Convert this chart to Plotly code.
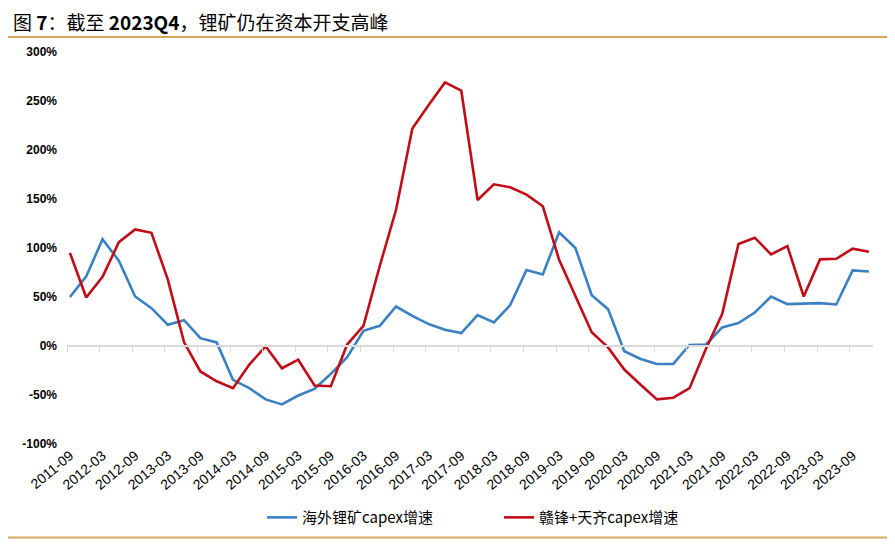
import plotly.graph_objects as go

quarters = [
    "2011-09", "2011-12", "2012-03", "2012-06", "2012-09", "2012-12",
    "2013-03", "2013-06", "2013-09", "2013-12", "2014-03", "2014-06",
    "2014-09", "2014-12", "2015-03", "2015-06", "2015-09", "2015-12",
    "2016-03", "2016-06", "2016-09", "2016-12", "2017-03", "2017-06",
    "2017-09", "2017-12", "2018-03", "2018-06", "2018-09", "2018-12",
    "2019-03", "2019-06", "2019-09", "2019-12", "2020-03", "2020-06",
    "2020-09", "2020-12", "2021-03", "2021-06", "2021-09", "2021-12",
    "2022-03", "2022-06", "2022-09", "2022-12", "2023-03", "2023-06",
    "2023-09", "2023-12",
]

overseas_capex = [
    50, 71, 109, 87, 50.5, 38.6, 21.7, 26.4, 8, 3.7,
    -34.5, -43, -54.5, -59.6, -50.5, -43.7, -28.5, -11.5, 15.5, 20.6,
    40.3, 30.8, 22.4, 16.6, 13.2, 31.5, 24, 41.7, 77.5, 73,
    116, 100, 51.8, 37.6, -5.4, -13.2, -18.3, -18.3, 1, 1.4,
    19, 23.4, 34.2, 50.5, 42.7, 43, 43.7, 42.4, 77.2, 76,
]

ganfeng_tianqi_capex = [
    95, 49.5, 70.5, 106, 119, 115.5, 68, 3.7, -26, -36,
    -43, -19, -0.3, -22.7, -14, -40.3, -41, 1.5, 20.6, 81.6,
    139, 222, 246, 269, 260.5, 149, 165, 162, 154.5, 142.6,
    88, 51, 14, -1.4, -24, -39.6, -54.5, -52.8, -43, -3,
    32.5, 104, 110.5, 93.5, 102, 50.5, 88.4, 89, 99.3, 96.2,
]

series_names = ["海外锂矿capex增速", "赣锋+天齐capex增速"]
y_ticks = [-100, -50, 0, 50, 100, 150, 200, 250, 300]

idx = list(range(len(quarters)))
label_idx = idx[::2]
label_text = quarters[::2]

# page body has an 8px margin, so the figure starts at screen (8, 8)
OFF = 8
W, H = 895 - OFF, 546 - OFF
L = 67 - OFF
R = W - (873 - OFF)
T = 52 - OFF
B = H - (446 - OFF)
pw, ph = W - L - R, H - T - B


def px_x(sx):
    return (sx - OFF - L) / pw


def px_y(sy):
    return (H - B - (sy - OFF)) / ph


fig = go.Figure()
fig.add_trace(go.Scatter(
    x=idx, y=overseas_capex, mode="lines", name=series_names[0],
    line=dict(color="#3A80C3", width=2.6),
))
fig.add_trace(go.Scatter(
    x=idx, y=ganfeng_tianqi_capex, mode="lines", name=series_names[1],
    line=dict(color="#C00D18", width=2.6),
))
# invisible helper trace so the zero-crossing tick axis is drawn
fig.add_trace(go.Scatter(
    x=idx, y=overseas_capex, xaxis="x2", mode="lines", opacity=0,
    showlegend=False, hoverinfo="skip", line=dict(width=0),
))

xr = [-0.18, len(quarters) - 1 + 0.25]

fig.update_layout(
    width=W, height=H,
    margin=dict(l=L, r=R, t=T, b=B),
    paper_bgcolor="white", plot_bgcolor="white",
    font=dict(family="Liberation Sans, Arial, sans-serif", color="#000000"),
    xaxis=dict(
        range=xr, tickmode="array", tickvals=label_idx, ticktext=label_text,
        tickangle=-40, tickfont=dict(size=14, color="#000000"),
        showgrid=False, zeroline=False, showline=False, ticks="",
    ),
    xaxis2=dict(
        overlaying="x", matches="x", anchor="free", position=0.25,
        tickmode="array", tickvals=[i - 0.18 for i in label_idx],
        ticks="outside", ticklen=5, tickwidth=1, tickcolor="#D9D9D9",
        showticklabels=False, showgrid=False, zeroline=False,
        showline=True, linecolor="#D9D9D9", linewidth=1.5,
    ),
    yaxis=dict(
        range=[-100, 300], tickmode="array", tickvals=y_ticks,
        ticktext=[f"<b>{v}%</b>" for v in y_ticks],
        tickfont=dict(size=12, color="#000000"),
        showgrid=False, zeroline=False, showline=False, ticks="",
        ticklabelstandoff=9,
    ),
    legend=dict(
        orientation="h", x=px_x(262), xanchor="left",
        y=px_y(520), yanchor="middle",
        font=dict(size=15, family="Noto Sans CJK SC, sans-serif", color="#000000"),
        bgcolor="rgba(0,0,0,0)", entrywidth=192, itemwidth=30,
    ),
    showlegend=True,
)

fig.add_annotation(
    xref="paper", yref="paper", x=px_x(11), y=px_y(21),
    xanchor="left", yanchor="middle", showarrow=False,
    text="图 <b>7</b>：截至 <b>2023Q4</b>，锂矿仍在资本开支高峰",
    font=dict(size=19, family="Noto Sans CJK SC, sans-serif", color="#000000"),
)

for yy in (37, 540):
    fig.add_shape(
        type="line", xref="paper", yref="paper",
        x0=px_x(8), x1=px_x(895), y0=px_y(yy), y1=px_y(yy),
        line=dict(color="#D9A561", width=2),
    )

fig.write_html("out.html")
